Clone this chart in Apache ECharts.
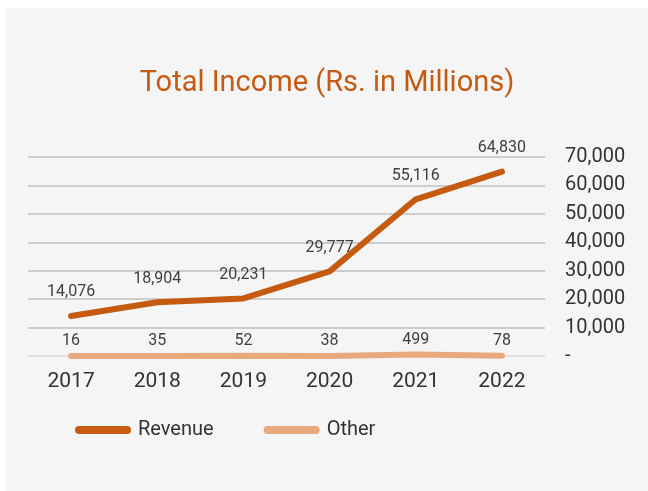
<!DOCTYPE html>
<html>
<head>
<meta charset="utf-8">
<script src="https://cdn.jsdelivr.net/npm/echarts@6/dist/echarts.min.js"></script>
<style>
html,body{margin:0;padding:0;background:#ffffff;}
#wrap{position:absolute;left:6px;top:8px;width:642px;height:483px;background:#f5f5f5;}
#chart{width:642px;height:483px;}
</style>
</head>
<body>
<div id="wrap"><div id="chart"></div></div>
<script>
const years = ['2017','2018','2019','2020','2021','2022'];
const revenue = [14076, 18904, 20231, 29777, 55116, 64830];
const other = [16, 35, 52, 38, 499, 78];
const yTicks = [0, 10000, 20000, 30000, 40000, 50000, 60000, 70000];

const fmt = v => v.toLocaleString('en-US');
const chart = echarts.init(document.getElementById('chart'));
const font = 'Roboto, "Open Sans", sans-serif';
const pill = 'path://M4,0 L52,0 A4,4 0 0 1 52,8 L4,8 A4,4 0 0 1 4,0 Z';
chart.setOption({
  backgroundColor: '#f5f5f5',
  animation: false,
  title: {
    text: 'Total Income (Rs. in Millions)',
    left: 'center', top: 56,
    textStyle: {color: '#c55a11', fontSize: 29, fontWeight: 'normal', fontFamily: font}
  },
  legend: {
    left: 64, top: 407, itemGap: 50,
    itemWidth: 56, itemHeight: 8,
    icon: pill,
    textStyle: {color: '#333', fontSize: 20, fontFamily: font, padding: [0,0,0,2]},
    data: ['Revenue', 'Other']
  },
  grid: {left: 22, right: 103, top: 149, bottom: 135},
  xAxis: {
    type: 'category', data: years, boundaryGap: true,
    axisLine: {show: false}, axisTick: {show: false},
    axisLabel: {color: '#333', fontSize: 21, fontFamily: font, margin: 15}
  },
  yAxis: {
    type: 'value', position: 'right', min: 0, max: 70000, interval: 10000,
    axisLine: {show: false}, axisTick: {show: false},
    axisLabel: {
      color: '#333', fontSize: 20, fontFamily: font, margin: 20, align: 'left',
      formatter: v => v === 0 ? '-' : fmt(v)
    },
    splitLine: {lineStyle: {color: ['#d9d9d9','#bfbfbf','#bfbfbf','#bfbfbf','#bfbfbf','#bfbfbf','#bfbfbf','#bfbfbf'], width: 1.5}}
  },
  series: [
    {
      name: 'Revenue', type: 'line', data: revenue,
      symbol: 'circle', symbolSize: 1, showSymbol: true, color: '#c55a11',
      lineStyle: {width: 6, cap: 'round', join: 'round'},
      label: {show: true, position: 'top', distance: 15, color: '#404040', fontSize: 16, fontFamily: font, formatter: p => fmt(p.value)},
      labelLayout: {hideOverlap: false},
      z: 3
    },
    {
      name: 'Other', type: 'line', data: other,
      symbol: 'circle', symbolSize: 1, showSymbol: true, color: '#e8aa7c',
      lineStyle: {width: 6, cap: 'round'},
      label: {show: true, position: 'top', distance: 6, color: '#404040', fontSize: 16, fontFamily: font, formatter: p => fmt(p.value)},
      labelLayout: {hideOverlap: false},
      z: 2
    }
  ]
});
</script>
</body>
</html>
